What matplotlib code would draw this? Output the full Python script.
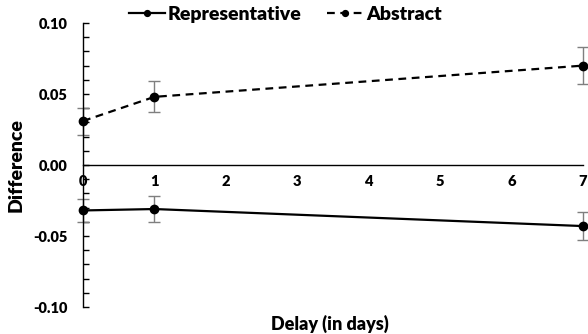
import matplotlib
matplotlib.use('agg')
import matplotlib.pyplot as plt
from matplotlib.ticker import MultipleLocator, FuncFormatter

# data
delay = [0, 1, 7]
rep = [-0.032, -0.031, -0.043]
rep_lo = [-0.040, -0.040, -0.053]
rep_hi = [-0.024, -0.022, -0.033]
abst = [0.031, 0.048, 0.070]
abst_lo = [0.021, 0.037, 0.057]
abst_hi = [0.040, 0.059, 0.083]

plt.rcParams['font.family'] = ['Lato', 'DejaVu Sans']
plt.rcParams['font.weight'] = 'heavy'

fig = plt.figure(figsize=(5.88, 3.34), dpi=100)
ax = fig.add_axes([0.1412, 0.0808, 0.8503, 0.8503])

rep_err = [[r - l for r, l in zip(rep, rep_lo)], [h - r for r, h in zip(rep, rep_hi)]]
abs_err = [[a - l for a, l in zip(abst, abst_lo)], [h - a for a, h in zip(abst, abst_hi)]]

ax.errorbar(delay, rep, yerr=rep_err, fmt='none', ecolor='#7f7f7f', elinewidth=1,
            capsize=4, capthick=1, clip_on=False, zorder=2)
ax.errorbar(delay, abst, yerr=abs_err, fmt='none', ecolor='#7f7f7f', elinewidth=1,
            capsize=4, capthick=1, clip_on=False, zorder=2)
l1, = ax.plot(delay, rep, '-', color='black', lw=1.6, marker='o', ms=6,
              clip_on=False, zorder=3, label='Representative')
l2, = ax.plot(delay, abst, '--', color='black', lw=1.6, marker='o', ms=6,
              dashes=(3.5, 2.5), clip_on=False, zorder=3, label='Abstract')

ax.set_xlim(0, 7)
ax.set_ylim(-0.10, 0.10)
ax.spines['top'].set_visible(False)
ax.spines['right'].set_visible(False)
ax.spines['bottom'].set_position(('data', 0))
ax.spines['bottom'].set_linewidth(1)
ax.spines['left'].set_linewidth(1)

ax.set_xticks(range(0, 8))
ax.tick_params(axis='x', length=0, pad=7, labelsize=10.5)
ax.yaxis.set_major_locator(MultipleLocator(0.05))
ax.yaxis.set_minor_locator(MultipleLocator(0.01))
ax.yaxis.set_major_formatter(FuncFormatter(lambda v, p: '%.2f' % v))
ax.tick_params(axis='y', which='both', direction='in', length=4, width=1, labelsize=10.5, pad=11)

ax.set_ylabel('Difference', fontsize=14, fontweight='heavy')
ax.yaxis.set_label_coords(-0.116, 0.5)
ax.set_xlabel('Delay (in days)', fontsize=13, fontweight='heavy')
ax.xaxis.set_label_coords(0.494, -0.026)

fig.legend(handles=[l1, l2], loc='upper center', bbox_to_anchor=(0.485, 1.035), ncol=2,
           frameon=False, fontsize=14, handlelength=1.85, handletextpad=0.15,
           columnspacing=1.3, markerscale=0.7)

fig.savefig('out.png', dpi=100)
